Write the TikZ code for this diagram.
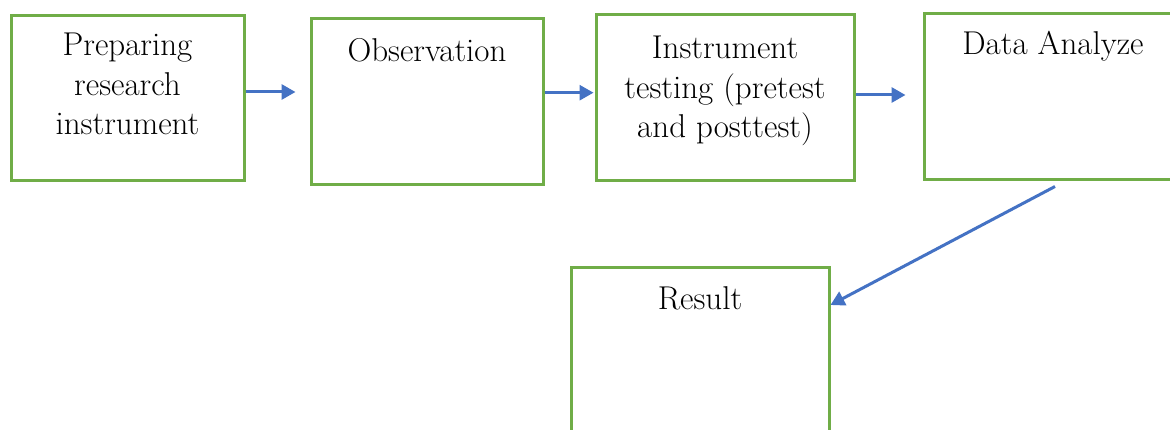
\documentclass[tikz,border=0pt]{standalone}
\usepackage{xcolor}
\usepackage{tikz}
\usetikzlibrary{positioning,arrows.meta}
\definecolor{BoxGreen}{HTML}{70AD47}
\definecolor{FlowBlue}{HTML}{4472C4}

\begin{document}
\begin{tikzpicture}[x=1pt, y=-1pt, >={Triangle[length=14pt,width=15pt]},
		stepbox/.style={draw=BoxGreen, line width=3pt, minimum height=166pt},
		steptext/.style={anchor=north, inner sep=0pt, align=center, font=\fontsize{33}{39.5}\selectfont},
		flow/.style={->, FlowBlue, line width=3pt}]
			\clip (0,0) rectangle (1170,430);
			\fill[white] (0,0) rectangle (1170,430);

			% boxes
			\node[stepbox, minimum width=233pt, minimum height=165pt] (prep) at (127.5,98.5) {};
			\node[stepbox, minimum width=232pt] (obs) at (427,102) {};
			\node[stepbox, minimum width=258pt] (test) at (725,98) {};
			\node[stepbox, minimum width=258pt] (dana) at (1053,97) {};
			\node[stepbox, minimum width=258pt] (res) at (700,351) {};

			% texts
			\node[steptext, below=18.5pt of prep.north] (preptext) {Preparing\\research\\instrument};
			\node[steptext, below=20.5pt of obs.north] (obstext) {Observation};
			\node[steptext, below=22.5pt of test.north] (testtext) {Instrument\\testing (pretest\\and posttest)};
			\node[steptext, below=18.5pt of dana.north] (danatext) {Data Analyze};
			\node[steptext, below=19.5pt of res.north] (restext) {Result};

			% arrows
			\draw[flow, shorten >=14pt] ([yshift=6.5pt]prep.east) -- ([yshift=10pt]obs.west);
			\draw[flow, shorten >=1pt] ([yshift=9.3pt]obs.east) -- ([yshift=5.3pt]test.west);
			\draw[flow, shorten >=17pt] ([yshift=3pt]test.east) -- ([yshift=2pt]dana.west);
			\draw[flow] ([shift={(2pt,-5pt)}]dana.south) -- ([yshift=46pt]res.east);

		\end{tikzpicture}
\end{document}
